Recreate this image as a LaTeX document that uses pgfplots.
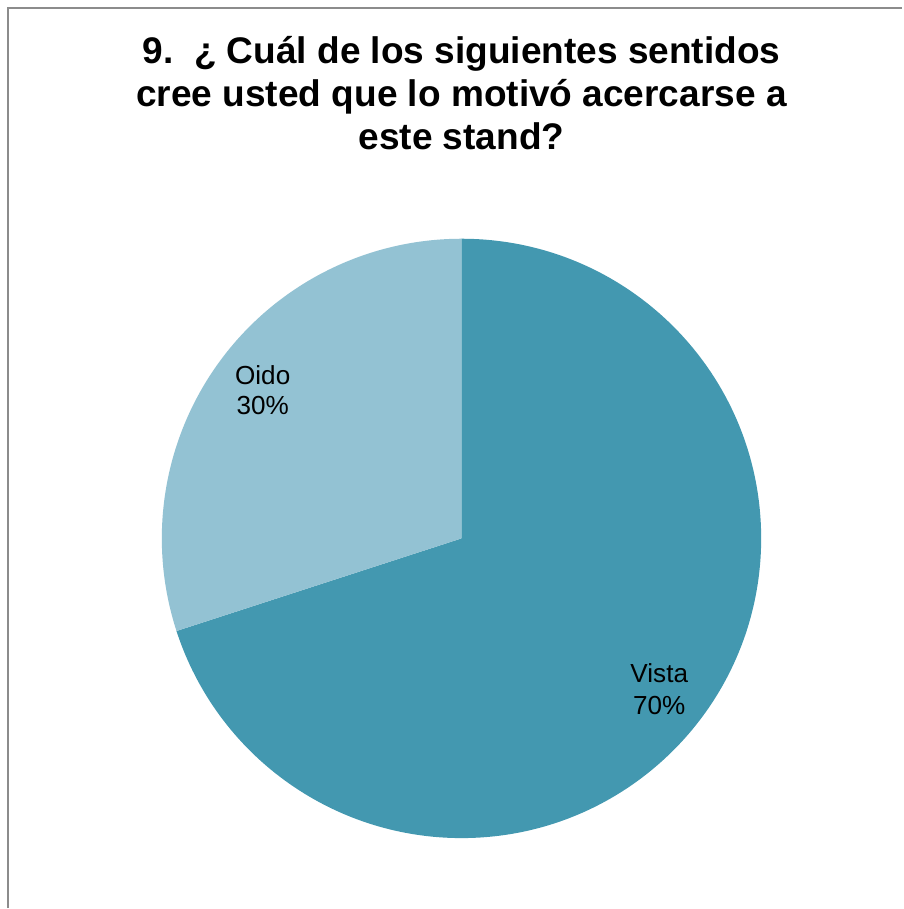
\documentclass[border=0pt]{standalone}
\usepackage{pgfplots}
\usepackage{pgfplotstable}
\pgfplotsset{compat=1.18}
\usepackage{fontspec}
\setmainfont{Liberation Sans}

\definecolor{vistac}{RGB}{67,152,176}
\definecolor{oidoc}{RGB}{147,194,211}
\definecolor{framec}{RGB}{140,140,140}

% pie shares (percent)
\pgfplotstableread{
label value
Vista 70
Oido 30
}\pietable
\pgfplotstablegetelem{0}{value}\of\pietable \let\vistaval\pgfplotsretval
\pgfplotstablegetelem{1}{value}\of\pietable \let\oidoval\pgfplotsretval
\pgfmathsetmacro{\vistaend}{90-3.6*\vistaval}

\begin{document}
\begin{tikzpicture}
\begin{axis}[
  hide axis, scale only axis,
  x=0.75bp, y=0.75bp,
  xmin=0, xmax=903, ymin=0, ymax=909,
  clip=false,
]
% page extent
\path (axis cs:0,0) rectangle (axis cs:903,909);
% outer frame (right and bottom edges fall outside the picture)
\draw[framec, line width=1.5bp] (axis cs:8.5,0) -- (axis cs:8.5,900.5) -- (axis cs:903,900.5);

% slices, clockwise from 12 o'clock
\fill[vistac] (axis cs:462,370) -- (axis cs:462,670)
  arc[start angle=90, end angle=\vistaend, radius=225bp] -- cycle;
\fill[oidoc] (axis cs:462,370) -- (axis cs:462,670)
  arc[start angle=90, end angle=\vistaend+360, radius=225bp] -- cycle;

% title
\begin{scope}[every node/.style={anchor=base, font=\fontsize{27.8bp}{33bp}\selectfont\bfseries}]
\node at (axis cs:462,845) {9.\ \ ¿ Cuál de los siguientes sentidos};
\node at (axis cs:462,802) {cree usted que lo motivó acercarse a};
\node at (axis cs:462,759) {este stand?};
\end{scope}

% data labels
\begin{scope}[every node/.style={anchor=base, font=\fontsize{19.6bp}{23bp}\selectfont}]
\node at (axis cs:263,524) {Oido};
\node at (axis cs:263,494) {\oidoval\%};
\node at (axis cs:660,226) {Vista};
\node at (axis cs:660,194) {\vistaval\%};
\end{scope}
\end{axis}
\end{tikzpicture}
\end{document}
